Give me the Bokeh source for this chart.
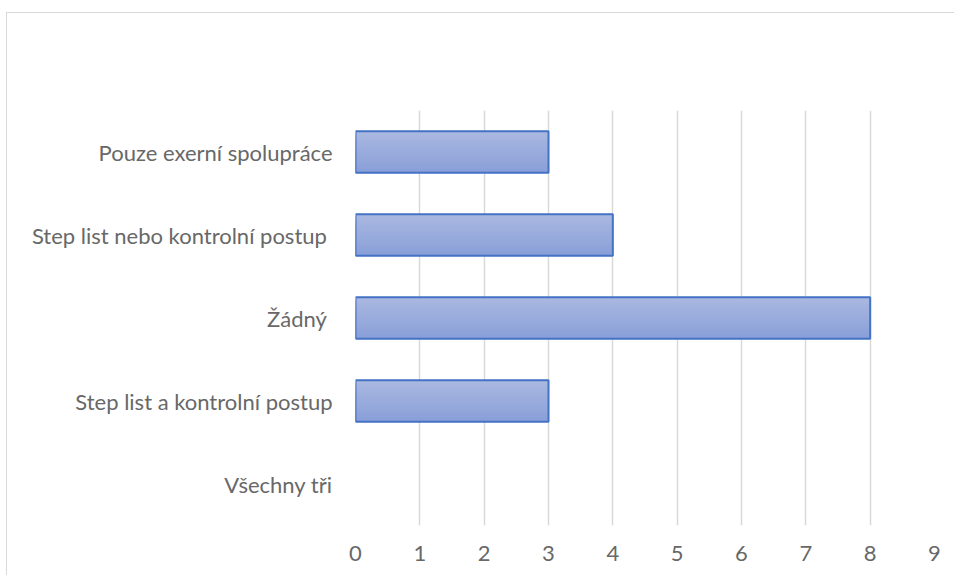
from bokeh.plotting import figure
from bokeh.models import ColumnDataSource, Range1d, FactorRange, FixedTicker
from bokeh.transform import dodge
from bokeh.embed import file_html
from bokeh.resources import INLINE

# Data (top to bottom as in the reference)
categories = ["Pouze exerní spolupráce", "Step list nebo kontrolní postup ", "Žádný ",
              "Step list a kontrolní postup", "Všechny tři"]
values = [3, 4, 8, 3, 0]
x_ticks = [0, 1, 2, 3, 4, 5, 6, 7, 8, 9]

FONT = "Lato"
TEXT_COLOR = "#686868"

cats_bottom_up = list(reversed(categories))
vals_bottom_up = list(reversed(values))

p = figure(
    y_range=FactorRange(factors=cats_bottom_up, range_padding=0),
    x_range=Range1d(0, 9),
    frame_width=579, frame_height=415,
    min_border_left=348, min_border_right=20, min_border_top=97, min_border_bottom=50,
    output_backend="svg", toolbar_location=None,
    background_fill_color="white", border_fill_color="white",
)
p.outline_line_color = None
p.styles = {
    "margin-left": "6px",
    "margin-top": "12px",
    "border-left": "1.5px solid #d9d9d9",
    "border-top": "1.5px solid #d9d9d9",
}

source = ColumnDataSource(data=dict(
    cat=cats_bottom_up,
    val=vals_bottom_up,
    line_alpha=[1.0 if v > 0 else 0.0 for v in vals_bottom_up],
))

# vertical gradient fill simulated with nested rectangles
bar_h = 0.5
N = 24
top_rgb = (170, 184, 225)
bot_rgb = (137, 159, 216)
sh = bar_h / N
for i in range(N):
    t = i / (N - 1)
    r = round(top_rgb[0] + (bot_rgb[0] - top_rgb[0]) * t)
    g = round(top_rgb[1] + (bot_rgb[1] - top_rgb[1]) * t)
    b = round(top_rgb[2] + (bot_rgb[2] - top_rgb[2]) * t)
    col = "#%02x%02x%02x" % (r, g, b)
    top = bar_h / 2 - i * sh
    bottom = -bar_h / 2
    p.hbar(y=dodge("cat", (top + bottom) / 2, range=p.y_range), left=0, right="val",
           height=top - bottom, source=source, fill_color=col, line_color=None)

p.hbar(y="cat", left=0, right="val", height=bar_h, source=source,
       fill_alpha=0, line_color="#4472c4", line_width=2, line_alpha="line_alpha")

# grid
p.ygrid.grid_line_color = None
p.xgrid.grid_line_color = "#d9d9d9"
p.xgrid.grid_line_width = 1.5
p.xaxis.ticker = FixedTicker(ticks=x_ticks)

for ax in (p.xaxis[0], p.yaxis[0]):
    ax.axis_line_color = None
    ax.major_tick_line_color = None
    ax.minor_tick_line_color = None
    ax.major_tick_out = 0
    ax.major_tick_in = 0
    ax.major_label_text_font = FONT
    ax.major_label_text_color = TEXT_COLOR
    ax.major_label_text_font_size = "22px"

p.xaxis.major_label_standoff = 20
p.yaxis.major_label_standoff = 23

open("out.html", "w").write(file_html(p, INLINE))
